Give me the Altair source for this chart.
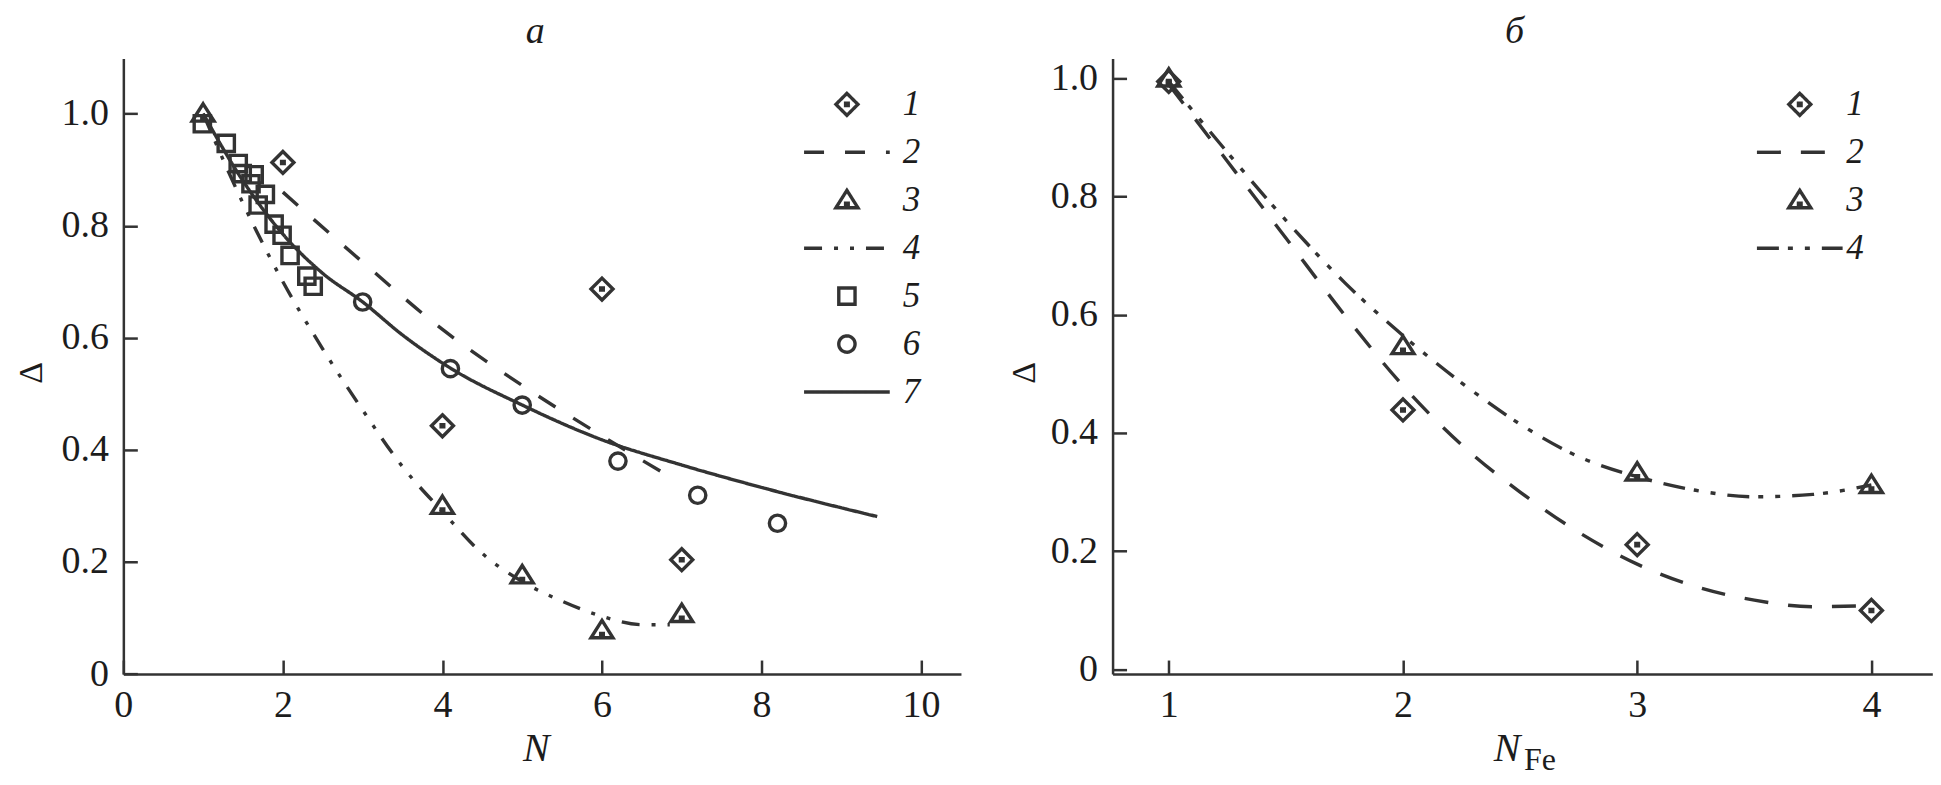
import altair as alt
import pandas as pd

FONT = "Liberation Serif, Times New Roman, serif"
INK = "#333333"
TXT = "#1c1c1c"

# ---------------- panel "a" data ----------------
a_labels = ["1", "2", "3", "4", "5", "6", "7"]
a_s1_x = [2, 4, 6, 7]
a_s1_y = [0.913, 0.443, 0.687, 0.204]
a_s3_x = [1, 4, 5, 6, 7]
a_s3_y = [1.0, 0.30, 0.176, 0.078, 0.107]
a_s5_x = [0.99, 1.29, 1.44, 1.49, 1.64, 1.60, 1.78, 1.69, 1.89, 1.99, 2.09, 2.30, 2.38]
a_s5_y = [0.982, 0.947, 0.911, 0.893, 0.891, 0.875, 0.856, 0.837, 0.803, 0.783, 0.747, 0.710, 0.692]
a_s6_x = [3.0, 4.1, 5.0, 6.2, 7.2, 8.2]
a_s6_y = [0.664, 0.545, 0.48, 0.38, 0.319, 0.269]
a_l2_x = [2.0, 3.0, 4.0, 5.0, 6.0, 6.85]
a_l2_y = [0.86, 0.735, 0.615, 0.515, 0.425, 0.352]
a_l4_x = [1.0, 1.5, 2.0, 2.5, 3.0, 3.5, 4.0, 4.5, 5.0, 5.5, 6.0, 6.5, 6.85]
a_l4_y = [1.0, 0.84, 0.70, 0.58, 0.471, 0.37, 0.29, 0.215, 0.165, 0.13, 0.103, 0.088, 0.088]
a_l7_x = [1.0, 1.5, 2.0, 2.5, 3.0, 3.5, 4.1, 5.0, 6.0, 7.0, 8.0, 9.45]
a_l7_y = [1.0, 0.88, 0.785, 0.715, 0.664, 0.605, 0.546, 0.48, 0.418, 0.373, 0.333, 0.281]
a_xticks = [0, 2, 4, 6, 8, 10]
a_yticks = [0, 0.2, 0.4, 0.6, 0.8, 1.0]

# ---------------- panel "б" data ----------------
b_labels = ["1", "2", "3", "4"]
b_s1_x = [1, 2, 3, 4]
b_s1_y = [0.995, 0.439, 0.211, 0.0996]
b_s3_x = [1, 2, 3, 4]
b_s3_y = [1.0, 0.547, 0.333, 0.312]
b_l_x = [1.0, 1.25, 1.5, 1.75, 2.0, 2.25, 2.5, 2.75, 3.0, 3.25, 3.5, 3.75, 4.0]
b_l2_y = [0.99, 0.86, 0.73, 0.60, 0.48, 0.38, 0.30, 0.232, 0.178, 0.14, 0.117, 0.106, 0.108]
b_l4_y = [0.995, 0.875, 0.76, 0.655, 0.565, 0.485, 0.415, 0.36, 0.326, 0.303, 0.292, 0.296, 0.312]
b_xticks = [1, 2, 3, 4]
b_yticks = [0, 0.2, 0.4, 0.6, 0.8, 1.0]

# ---------------- marker shapes (unit paths) ----------------
EXT = "M-3.9,0M3.9,0M0,-1M0,1"
DIAMOND = EXT + "M0,-1L1,0L0,1L-1,0Z M-0.12,-0.1h0.24v0.2h-0.24Z"
TRIANGLE = EXT + "M0,-0.9L1,0.68L-1,0.68Z M-0.12,0.28h0.24v0.14h-0.24Z"
SQUARE = EXT + "M-0.74,-0.74h1.48v1.48h-1.48Z"
CIRCLE = EXT + "M-0.74,0A0.74,0.74 0 1,0 0.74,0A0.74,0.74 0 1,0 -0.74,0Z"
LINE = EXT + "M-3.9,0L3.9,0"


def frame(xs, ys, labels):
    rows = []
    for x, y, s in zip(xs, ys, labels):
        rows.append({"x": x, "y": y, "s": s})
    return rows


def build_panel(pts, lns, dom, shapes, dashes, xdom, ydom, W, H, xticks, yticks,
                title, title_dx, xtitle, xtitle_x, ytitle_x, lx, ly, loff, extra=None):
    xs = alt.Scale(domain=xdom, nice=False, zero=False)
    ys = alt.Scale(domain=ydom, nice=False, zero=False)
    shape_scale = alt.Scale(domain=dom, range=shapes)
    dash_scale = alt.Scale(domain=dom, range=dashes)
    leg = alt.Legend(title=None, orient="none", legendX=lx, legendY=ly, direction="vertical",
                     labelFont=FONT, labelFontSize=35, labelFontStyle="italic", labelColor=TXT,
                     labelOffset=loff, symbolSize=484, symbolStrokeWidth=3.4,
                     symbolStrokeColor=INK, symbolFillColor="transparent", symbolOpacity=1,
                     rowPadding=11, padding=0)
    x_axis = alt.Axis(orient="bottom", values=xticks, ticks=False, tickSize=0, labelPadding=43,
                      labelBaseline="alphabetic", labelFont=FONT, labelFontSize=38, labelColor=TXT,
                      labelFlush=False, labelOverlap=False, format="d",
                      domainColor=INK, domainWidth=2.5, grid=False,
                      title=xtitle, titleFont=FONT, titleFontSize=40, titleFontStyle="italic",
                      titleFontWeight="normal", titleColor=TXT, titleX=xtitle_x, titleY=86.5,
                      titleBaseline="alphabetic", titleAlign="center")
    y_axis = alt.Axis(orient="left", values=yticks, ticks=False, tickSize=0, labelPadding=15,
                      labelFont=FONT, labelFontSize=38, labelColor=TXT, labelOverlap=False,
                      labelExpr="datum.value == 0 ? '0' : format(datum.value, '.1f')",
                      domainColor=INK, domainWidth=2.5, grid=False,
                      title="Δ", titleFont=FONT, titleFontSize=34, titleFontWeight="normal",
                      titleColor=TXT, titleAngle=270, titleX=ytitle_x, titleY=H / 2 + 6,
                      titleAlign="center", titleBaseline="middle")
    tick_x = alt.Axis(orient="top", offset=-H, values=xticks, ticks=True, tickSize=14,
                      tickWidth=2.5, tickColor=INK, labels=False, domain=False, grid=False, title=None)
    tick_y = alt.Axis(orient="right", offset=-W, values=yticks, ticks=True, tickSize=14,
                      tickWidth=2.5, tickColor=INK, labels=False, domain=False, grid=False, title=None)

    lines = alt.Chart(pd.DataFrame(lns)).mark_line(
        strokeWidth=3.4, color=INK, interpolate="monotone"
    ).encode(
        x=alt.X("x:Q", scale=xs, axis=tick_x),
        y=alt.Y("y:Q", scale=ys, axis=tick_y),
        strokeDash=alt.StrokeDash("s:N", scale=dash_scale, legend=leg),
        detail="s:N",
    )
    points = alt.Chart(pd.DataFrame(pts)).mark_point(
        filled=False, strokeWidth=3.4, color=INK, opacity=1, size=484
    ).encode(
        x=alt.X("x:Q", scale=xs, axis=x_axis),
        y=alt.Y("y:Q", scale=ys, axis=y_axis),
        shape=alt.Shape("s:N", scale=shape_scale, legend=leg),
    )
    layers = [lines, points]
    if extra is not None:
        layers.append(extra)
    return alt.layer(*layers).resolve_axis(x="independent", y="independent").properties(
        width=W, height=H,
        title=alt.TitleParams(text=title, font=FONT, fontSize=38, fontStyle="italic",
                              fontWeight="normal", color=TXT, anchor="middle", offset=7,
                              dx=title_dx),
    )


H = 616.4
# panel a
a_pts = (frame(a_s1_x, a_s1_y, ["1"] * len(a_s1_x)) + frame(a_s3_x, a_s3_y, ["3"] * len(a_s3_x))
         + frame(a_s5_x, a_s5_y, ["5"] * len(a_s5_x)) + frame(a_s6_x, a_s6_y, ["6"] * len(a_s6_x)))
a_lns = (frame(a_l2_x, a_l2_y, ["2"] * len(a_l2_x)) + frame(a_l4_x, a_l4_y, ["4"] * len(a_l4_x))
         + frame(a_l7_x, a_l7_y, ["7"] * len(a_l7_x)))
left = build_panel(
    a_pts, a_lns, a_labels,
    [DIAMOND, LINE, TRIANGLE, LINE, SQUARE, CIRCLE, LINE],
    [[1, 0], [20, 21], [1, 0], [18, 12, 4, 12, 4, 12], [1, 0], [1, 0], [1, 0]],
    [0, 10.5], [0, 1.0986], 838.7, H, a_xticks, a_yticks,
    "a", -7, "N", 413, -92, 707, 28.5, 38.3,
)

# panel б
b_pts = frame(b_s1_x, b_s1_y, ["1"] * 4) + frame(b_s3_x, b_s3_y, ["3"] * 4)
b_lns = frame(b_l_x, b_l2_y, ["2"] * len(b_l_x)) + frame(b_l_x, b_l4_y, ["4"] * len(b_l_x))
fe = alt.Chart(pd.DataFrame({"t": ["Fe"]})).mark_text(
    font=FONT, fontSize=32, align="left", baseline="alphabetic", color=TXT
).encode(text="t:N", x=alt.value(412), y=alt.value(712))
right = build_panel(
    b_pts, b_lns, b_labels,
    [DIAMOND, LINE, TRIANGLE, LINE],
    [[1, 0], [24, 20], [1, 0], [22, 9, 5, 12, 5, 12]],
    [0.76, 4.26], [-0.008, 1.034], 820.8, H, b_xticks, b_yticks,
    "б", -8, "N", 394.5, -88, 670.6, 28.5, 29, extra=fe,
)

chart = alt.hconcat(left, right, spacing=46.5).resolve_scale(
    shape="independent", strokeDash="independent"
).resolve_legend(
    shape="independent", strokeDash="independent"
).properties(
    padding={"left": 6.5, "top": 5, "right": 0, "bottom": 0},
    background="white",
).configure_view(stroke=None)

chart.save("out.html", embed_options={"renderer": "svg", "actions": False})
